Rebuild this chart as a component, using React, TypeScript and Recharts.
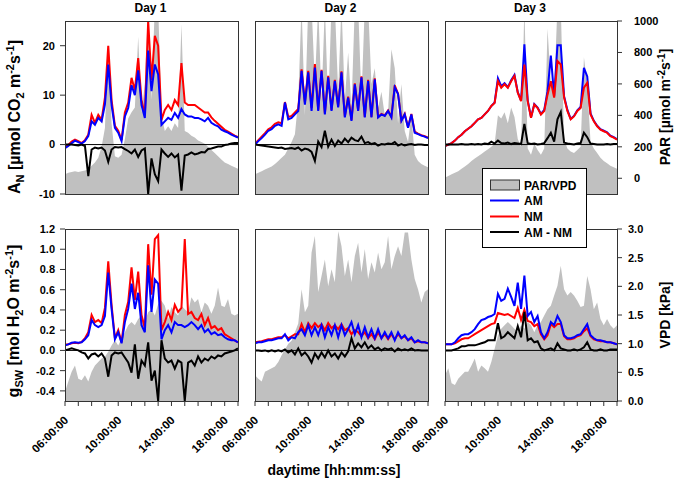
import { ComposedChart, Area, Line, XAxis, YAxis, ReferenceLine } from 'recharts';

const FONT = '"Liberation Sans", Arial, Helvetica, sans-serif';
const AXIS = '#333333';
const GREY = '#c0c0c0';
const PAD = 60;
const AXW = 30;

// time of day in hours, 15 min steps
const hours = [
  6, 6.25, 6.5, 6.75, 7, 7.25, 7.5, 7.75,
  8, 8.25, 8.5, 8.75, 9, 9.25, 9.5, 9.75,
  10, 10.25, 10.5, 10.75, 11, 11.25, 11.5, 11.75,
  12, 12.25, 12.5, 12.75, 13, 13.25, 13.5, 13.75,
  14, 14.25, 14.5, 14.75, 15, 15.25, 15.5, 15.75,
  16, 16.25, 16.5, 16.75, 17, 17.25, 17.5, 17.75,
  18, 18.25, 18.5, 18.75, 19,
];

const dayTitles = ['Day 1', 'Day 2', 'Day 3'];
const topTimeTicks = [7.13, 9.53, 11.94, 14.27, 16.67, 19];
const hourTicks = [6, 7, 8, 9, 10, 11, 12, 13, 14, 15, 16, 17, 18, 19];
const labelHours = [6, 10, 14, 18];
const timeLabels = ['06:00:00', '10:00:00', '14:00:00', '18:00:00'];
const anTicks = [-10, 0, 10, 20];
const parTicks = [0, 200, 400, 600, 800, 1000];
const gswTicks = [-0.4, -0.2, 0, 0.2, 0.4, 0.6, 0.8, 1.0, 1.2];
const vpdTicks = [0, 0.5, 1, 1.5, 2, 2.5, 3];

// ---- Day 1 ----
const par1 = [
  25, 35, 40, 45, 40, 45, 50, 55,
  80, 100, 130, 200, 320, 850, 350, 140,
  130, 150, 250, 380, 420, 450, 900, 420,
  600, 1100, 500, 1100, 1100, 400, 300, 330,
  300, 350, 320, 980, 300, 290, 270, 260,
  240, 230, 220, 200, 180, 160, 140, 120,
  100, 90, 80, 70, 60,
];
const anAM1 = [
  -0.7, -0.3, 0.3, 0.8, 0.5, 0.2, 0.7, 1.7,
  4.7, 4.0, 5.4, 4.7, 8.1, 16.2, 8.0, 3.4,
  2.4, 0.7, 5.7, 7.4, 12, 10, 15, 8,
  5.4, 19, 10.8, 16.2, 14.2, 4, 4.7, 5.4,
  5, 6.4, 5.4, 7.2, 6.1, 5.7, 5.7, 5.4,
  5.4, 5.1, 4.7, 5.4, 4.4, 4.0, 3.7, 3.0,
  2.7, 2.4, 2.0, 1.7, 1.4,
];
const anNM1 = [
  -0.5, -0.1, 0.6, 1.0, 0.7, 0.3, 0.9, 2.0,
  6.0, 4.4, 6.0, 5.0, 9.5, 20, 9, 3.8,
  2.8, 0.9, 6.5, 8.5, 13.5, 11, 17.5, 9,
  6, 25, 13, 22, 20, 5, 7, 8,
  7, 9, 8, 16.5, 8.5, 8, 8, 8,
  7.5, 7, 6.5, 6.5, 5.5, 4.8, 4.2, 3.6,
  3, 2.6, 2.2, 1.8, 1.5,
];
const anDiff1 = [
  0, 0, 0, -0.1, -0.2, 0, -0.3, -6.4,
  -1.0, -0.6, -0.8, -0.6, -1.2, -3.5, -1.0, -0.5,
  -0.6, -0.5, -0.9, -1.3, -1.8, -1.0, -2.5, -1.2,
  -0.8, -10, -2.8, -6, -7.4, -1.0, -1.8, -2.5,
  -1.8, -2.6, -2.0, -9.3, -2.2, -2.0, -1.6, -2.0,
  -1.8, -1.5, -1.6, -0.9, -0.8, -0.6, -0.4, -0.4,
  -0.1, 0, 0.2, 0.3, 0.3,
];
const vpd1 = [
  0.16, 0.34, 0.51, 0.62, 0.39, 0.36, 0.45, 0.34,
  0.51, 0.62, 0.68, 0.74, 0.77, 0.86, 0.97, 1.06,
  0.97, 1.09, 1.2, 1.32, 1.38, 1.32, 1.43, 1.49,
  1.38, 1.55, 1.6, 1.49, 1.69, 1.75, 1.66, 1.43,
  1.64, 1.55, 1.49, 1.66, 1.6, 1.55, 1.81, 1.72,
  1.78, 1.55, 1.72, 1.66, 1.52, 1.66, 1.98, 1.66,
  1.64, 1.78, 1.52, 1.49, 1.52,
];
const gswAM1 = [
  0.05, 0.06, 0.075, 0.08, 0.075, 0.08, 0.11, 0.15,
  0.3, 0.25, 0.23, 0.25, 0.34, 0.77, 0.41, 0.11,
  0.18, 0.07, 0.28, 0.41, 0.66, 0.41, 0.57, 0.25,
  0.18, 0.84, 0.38, 0.7, 0.66, 0.11, 0.2, 0.25,
  0.18, 0.28, 0.25, 0.25, 0.23, 0.25, 0.28, 0.25,
  0.21, 0.25, 0.18, 0.21, 0.16, 0.18, 0.15, 0.16,
  0.13, 0.11, 0.1, 0.1, 0.08,
];
const gswNM1 = [
  0.055, 0.06, 0.07, 0.075, 0.07, 0.085, 0.12, 0.18,
  0.35, 0.28, 0.3, 0.27, 0.42, 0.88, 0.45, 0.12,
  0.2, 0.08, 0.35, 0.48, 0.82, 0.5, 0.78, 0.35,
  0.22, 1.05, 0.55, 1.1, 1.14, 0.2, 0.28, 0.38,
  0.3, 0.45, 0.38, 0.42, 1.1, 0.36, 0.38, 0.32,
  0.3, 0.36, 0.25, 0.32, 0.22, 0.24, 0.2, 0.22,
  0.16, 0.14, 0.12, 0.1, 0.08,
];
const gswDiff1 = [
  0, 0.01, 0.02, 0.01, 0, -0.02, -0.03, -0.08,
  -0.04, -0.03, -0.06, -0.03, -0.08, -0.26, -0.05, -0.02,
  -0.03, -0.02, -0.07, -0.12, -0.22, 0.06, -0.28, -0.1,
  -0.15, 0.08, -0.3, -0.2, -0.5, 0.1, -0.08, -0.12,
  -0.1, -0.18, -0.1, -0.12, -0.5, -0.12, -0.1, -0.15,
  -0.06, -0.12, -0.08, -0.1, -0.06, -0.08, -0.05, -0.06,
  -0.03, -0.02, -0.01, 0, 0.02,
];

// ---- Day 2 ----
const par2 = [
  25, 35, 45, 55, 65, 75, 90, 110,
  130, 150, 190, 230, 280, 500, 1100, 400,
  1100, 1100, 600, 1100, 500, 1100, 450, 1100,
  1100, 550, 1100, 500, 800, 450, 1100, 1100,
  500, 1100, 1100, 600, 700, 450, 550, 400,
  420, 820, 700, 350, 600, 300, 230, 400,
  150, 110, 90, 80, 70,
];
const anAM2 = [
  0, 0.7, 1.3, 2.0, 2.8, 3.1, 3.8, 4.1,
  3.8, 8.5, 5.1, 5.4, 6.1, 6.8, 14.9, 8.1,
  14.6, 6.8, 15.6, 6.8, 14.9, 6.1, 13.6, 6.8,
  12.9, 7.5, 14.6, 5.5, 9.5, 4.8, 12.2, 6.8,
  13.6, 5.5, 12.9, 5.5, 13.2, 5.5, 6.1, 5.8,
  6.8, 5.5, 11.6, 10.2, 4.8, 6.1, 3.4, 6.1,
  2.4, 2.1, 1.8, 1.6, 1.3,
];
const anNM2 = [
  0.2, 0.9, 1.6, 2.3, 3.1, 3.5, 4.2, 4.5,
  4.3, 8.6, 5.6, 5.8, 6.5, 7.2, 15.2, 8.5,
  14.9, 7.4, 16.3, 7.0, 15.1, 6.3, 13.9, 7.0,
  13.1, 7.7, 14.8, 5.7, 9.7, 5.0, 12.4, 6.9,
  13.8, 5.6, 13.1, 5.6, 13.4, 5.6, 6.2, 5.9,
  6.9, 5.6, 12.0, 10.3, 4.9, 6.2, 3.5, 6.2,
  2.6, 2.2, 1.9, 1.7, 1.4,
];
const anDiff2 = [
  0, -0.1, -0.2, -0.3, -0.4, -0.5, -0.6, -0.7,
  -0.6, -0.9, -0.8, -0.7, -0.9, -0.6, -1.2, -0.8,
  -1.0, -1.5, -3.3, 0.6, -0.5, 2.8, -0.4, 1.0,
  -0.3, 0.8, 0.2, 1.2, 0.5, 1.4, 0.9, 0.7,
  1.6, 0.3, 0.5, 0.1, 0.3, -0.2, 0.1, 0,
  0.2, 0.1, 0.5, -0.2, 0.1, -0.2, 0, 0.1,
  -0.1, 0, 0, -0.1, -0.1,
];
const vpd2 = [
  0.45, 0.39, 0.34, 0.51, 0.54, 0.57, 0.6, 0.68,
  0.8, 0.9, 1.0, 1.05, 1.2, 1.35, 1.95, 1.55,
  1.66, 2.59, 2.88, 1.9, 2.18, 2.47, 2.0, 2.3,
  2.07, 2.96, 2.7, 2.18, 2.47, 2.07, 2.53, 2.76,
  2.24, 2.65, 2.13, 2.42, 2.24, 2.59, 2.3, 2.42,
  2.88, 2.3, 2.53, 2.7, 2.53, 2.94, 2.94, 2.47,
  2.13, 1.95, 1.72, 1.9, 1.95,
];
const gswAM2 = [
  0.07, 0.08, 0.08, 0.09, 0.1, 0.1, 0.11, 0.12,
  0.12, 0.16, 0.1, 0.13, 0.12, 0.18, 0.21, 0.15,
  0.25, 0.15, 0.23, 0.15, 0.25, 0.13, 0.23, 0.15,
  0.25, 0.13, 0.25, 0.15, 0.21, 0.28, 0.16, 0.25,
  0.13, 0.23, 0.13, 0.21, 0.12, 0.21, 0.12, 0.18,
  0.12, 0.18, 0.1, 0.18, 0.12, 0.15, 0.1, 0.13,
  0.08, 0.1, 0.08, 0.08, 0.07,
];
const gswNM2 = [
  0.08, 0.085, 0.09, 0.1, 0.11, 0.11, 0.12, 0.13,
  0.13, 0.15, 0.12, 0.14, 0.16, 0.16, 0.26, 0.18,
  0.27, 0.22, 0.27, 0.23, 0.26, 0.2, 0.27, 0.22,
  0.25, 0.21, 0.26, 0.2, 0.22, 0.16, 0.2, 0.18,
  0.14, 0.18, 0.12, 0.16, 0.11, 0.18, 0.12, 0.16,
  0.11, 0.16, 0.11, 0.16, 0.12, 0.14, 0.1, 0.12,
  0.08, 0.09, 0.08, 0.08, 0.07,
];
const gswDiff2 = [
  0, 0, -0.005, 0, -0.01, 0, -0.01, 0,
  -0.01, 0.01, -0.02, 0, -0.04, 0.02, -0.05, -0.02,
  -0.06, -0.12, -0.03, -0.08, -0.02, -0.07, 0, -0.06,
  -0.03, -0.08, -0.02, -0.06, -0.01, 0.12, 0.02, 0.07,
  0.03, 0.08, 0.02, 0.05, 0.01, 0.03, 0, 0.02,
  0.01, 0.02, -0.01, 0.02, 0, 0.01, 0, 0.02,
  0, 0.005, 0, 0, 0,
];

// ---- Day 3 ----
const par3 = [
  5, 15, 25, 35, 45, 60, 75, 90,
  110, 125, 140, 155, 170, 185, 200, 220,
  400, 380, 420, 350, 450, 390, 250, 200,
  1100, 190, 150, 220, 180, 150, 190, 950,
  600, 550, 1100, 1100, 250, 190, 170, 160,
  180, 200, 770, 600, 230, 190, 160, 130,
  110, 95, 80, 70, 60,
];
const anAM3 = [
  -0.3, 0, 0.3, 0.8, 1.5, 2.0, 2.7, 3.2,
  3.7, 4.4, 5.1, 5.4, 6.1, 6.8, 7.8, 8.5,
  13.4, 11.8, 12.4, 11.6, 13.0, 14.1, 10.6, 8.9,
  20.3, 9.0, 5.5, 8.2, 7.5, 6.2, 7.0, 10.8,
  18.0, 9.8, 20.1, 20.1, 9.8, 7.0, 5.2, 5.8,
  6.9, 7.6, 15.5, 13.8, 6.3, 4.8, 3.8, 3.1,
  2.8, 2.5, 1.8, 1.5, 1.1,
];
const anNM3 = [
  -0.3, 0, 0.3, 0.8, 1.5, 2.0, 2.7, 3.2,
  3.7, 4.4, 5.1, 5.4, 6.1, 6.8, 7.8, 8.4,
  12.8, 11.5, 12.2, 11.5, 12.8, 13.9, 10.5, 8.8,
  16.2, 8.8, 5.4, 8.1, 7.4, 6.1, 6.8, 10.1,
  12.8, 9.5, 16.9, 16.2, 9.5, 6.8, 5.1, 5.7,
  6.8, 7.4, 11.5, 12.5, 6.1, 4.7, 3.7, 3.0,
  2.7, 2.4, 1.7, 1.4, 1.0,
];
const anDiff3 = [
  0, 0, 0, 0, 0, 0.1, 0, 0,
  0.1, 0, 0.1, 0, 0.2, 0.1, 0.6, 0.2,
  0.8, 0.3, 0.2, 0.4, 0.1, 0.3, 0.2, 0.1,
  4.2, 0.3, 0.1, 0.2, 0, 0.1, 0.3, 1.3,
  2.4, 0.6, 5.1, 6.6, 0.4, 0.2, 0.1, 0,
  0.2, 0.3, 2.4, 1.5, 0.2, 0.1, 0, 0,
  0, 0.1, 0, 0.1, 0.1,
];
const vpd3 = [
  0.45, 0.57, 0.31, 0.28, 0.39, 0.45, 0.51, 0.51,
  0.62, 0.74, 0.51, 0.62, 0.57, 0.51, 0.68, 0.91,
  1.14, 1.26, 1.32, 1.38, 1.32, 1.26, 1.2, 1.32,
  1.26, 1.38, 1.32, 1.2, 1.32, 1.38, 1.49, 1.6,
  1.66, 1.84, 2.01, 2.36, 1.95, 1.84, 1.9, 1.84,
  1.75, 1.64, 1.66, 2.18, 1.95, 1.6, 1.72, 1.43,
  1.32, 1.43, 1.32, 1.26, 1.32,
];
const gswAM3 = [
  0.06, 0.06, 0.06, 0.08, 0.12, 0.15, 0.16, 0.16,
  0.18, 0.21, 0.26, 0.3, 0.31, 0.33, 0.34, 0.36,
  0.56, 0.49, 0.51, 0.61, 0.53, 0.44, 0.67, 0.41,
  0.74, 0.34, 0.38, 0.28, 0.34, 0.18, 0.12, 0.18,
  0.28, 0.25, 0.34, 0.28, 0.15, 0.12, 0.12, 0.13,
  0.15, 0.16, 0.21, 0.26, 0.15, 0.12, 0.1, 0.1,
  0.09, 0.08, 0.08, 0.07, 0.06,
];
const gswNM3 = [
  0.06, 0.06, 0.06, 0.07, 0.09, 0.11, 0.12, 0.12,
  0.14, 0.16, 0.18, 0.2, 0.22, 0.24, 0.26, 0.27,
  0.37, 0.36, 0.35, 0.36, 0.34, 0.32, 0.42, 0.3,
  0.4, 0.29, 0.28, 0.24, 0.26, 0.16, 0.11, 0.15,
  0.26, 0.23, 0.26, 0.26, 0.14, 0.11, 0.11, 0.12,
  0.14, 0.15, 0.19, 0.22, 0.14, 0.11, 0.1, 0.09,
  0.09, 0.08, 0.08, 0.07, 0.06,
];
const gswDiff3 = [
  0, 0, 0, 0.01, 0.02, 0.04, 0.04, 0.05,
  0.05, 0.05, 0.06, 0.07, 0.08, 0.1, 0.1, 0.1,
  0.27, 0.12, 0.14, 0.18, 0.15, 0.12, 0.24, 0.13,
  0.38, 0.1, 0.12, 0.08, 0.09, 0.02, 0, 0.01,
  0.02, 0, 0.07, 0.02, 0.01, 0, 0, 0.01,
  0, 0.01, 0.03, 0.08, 0.01, 0, 0, 0.01,
  0, 0, 0.01, 0.01, 0.01,
];

const colX = [65, 255, 445];
const colW = [173, 173, 172];
const rowY = [21, 229];
const rowH = [173, 172];

const anScale = { domain: [-10, 25], ticks: anTicks, fmt: (v: number) => String(v), margin: 5 };
const parScale = { domain: [-100, 1000], ticks: parTicks, fmt: (v: number) => String(v), margin: 12 };
const gswScale = { domain: [-0.5, 1.2], ticks: gswTicks, fmt: (v: number) => v.toFixed(1), margin: 5 };
const vpdScale = { domain: [0, 3], ticks: vpdTicks, fmt: (v: number) => v.toFixed(1), margin: 6 };

const tickText = { fill: '#000', fontSize: 11, fontWeight: 'bold', fontFamily: FONT };

const panels = [
  { row: 0, col: 0, am: anAM1, nm: anNM1, diff: anDiff1, env: par1, redTop: false },
  { row: 0, col: 1, am: anAM2, nm: anNM2, diff: anDiff2, env: par2, redTop: false },
  { row: 0, col: 2, am: anAM3, nm: anNM3, diff: anDiff3, env: par3, redTop: true },
  { row: 1, col: 0, am: gswAM1, nm: gswNM1, diff: gswDiff1, env: vpd1, redTop: false },
  { row: 1, col: 1, am: gswAM2, nm: gswNM2, diff: gswDiff2, env: vpd2, redTop: false },
  { row: 1, col: 2, am: gswAM3, nm: gswNM3, diff: gswDiff3, env: vpd3, redTop: false },
];

function TimeTick(props: any) {
  const { x, y, payload } = props;
  const i = labelHours.indexOf(payload.value);
  if (i < 0) return <g />;
  const ax = x + 4;
  const ay = y + 13;
  return (
    <text x={ax} y={ay} transform={`rotate(-45 ${ax} ${ay})`} textAnchor="end" {...tickText} fontSize={11.5}>
      {timeLabels[i]}
    </text>
  );
}

function Panel({ row, col, am, nm, diff, env, redTop }: any) {
  const x = colX[col];
  const y = rowY[row];
  const w = colW[col];
  const h = rowH[row];
  const ls = row === 0 ? anScale : gswScale;
  const rs = row === 0 ? parScale : vpdScale;
  const outerLeft = col === 0;
  const outerRight = col === 2;
  const data = hours.map((t, i) => ({ t, am: am[i], nm: nm[i], diff: diff[i], env: env[i] }));

  // mirrored axes take no room, outer ones take AXW
  const mLeft = outerLeft ? PAD - AXW : PAD;
  const mRight = outerRight ? PAD - AXW : PAD;

  const amLine = (
    <Line key="am" yAxisId="l" dataKey="am" type="linear" stroke="#0000ff" strokeWidth={2} dot={false} isAnimationActive={false} />
  );
  const nmLine = (
    <Line key="nm" yAxisId="l" dataKey="nm" type="linear" stroke="#ff0000" strokeWidth={2} dot={false} isAnimationActive={false} />
  );

  return (
    <div style={{ position: 'absolute', left: x - PAD, top: y - PAD }}>
      <ComposedChart
        width={w + 2 * PAD}
        height={h + 2 * PAD}
        data={data}
        margin={{ top: PAD, right: mRight, bottom: PAD - AXW, left: mLeft }}
      >
        <XAxis
          dataKey="t"
          type="number"
          domain={[6, 19]}
          allowDataOverflow
          ticks={row === 1 ? hourTicks : topTimeTicks}
          interval={0}
          height={AXW}
          axisLine={false}
          stroke={AXIS}
          tickSize={5}
          tick={row === 1 ? (p: any) => <TimeTick {...p} /> : false}
        />
        <YAxis
          yAxisId="l"
          domain={ls.domain}
          ticks={ls.ticks}
          allowDataOverflow
          interval={0}
          width={AXW}
          axisLine={false}
          stroke={AXIS}
          tickSize={5}
          mirror={!outerLeft}
          tick={outerLeft ? tickText : false}
          tickFormatter={ls.fmt}
          tickMargin={ls.margin}
        />
        <YAxis
          yAxisId="r"
          orientation="right"
          domain={rs.domain}
          ticks={rs.ticks}
          allowDataOverflow
          interval={0}
          width={AXW}
          axisLine={false}
          stroke={AXIS}
          tickSize={5}
          mirror={!outerRight}
          tick={outerRight ? tickText : false}
          tickFormatter={rs.fmt}
          tickMargin={rs.margin}
        />
        <Area
          yAxisId="r"
          dataKey="env"
          type="linear"
          stroke="none"
          fill={GREY}
          fillOpacity={1}
          baseValue={rs.domain[0]}
          isAnimationActive={false}
        />
        <ReferenceLine yAxisId="l" y={0} stroke="#000" strokeWidth={1} />
        {redTop ? amLine : nmLine}
        {redTop ? nmLine : amLine}
        <Line yAxisId="l" dataKey="diff" type="linear" stroke="#000000" strokeWidth={2} dot={false} isAnimationActive={false} />
      </ComposedChart>
      <div
        style={{
          position: 'absolute',
          left: PAD,
          top: PAD,
          width: w + 1,
          height: h + 1,
          border: `1px solid ${AXIS}`,
          boxSizing: 'border-box',
          pointerEvents: 'none',
        }}
      />
    </div>
  );
}

function Titles() {
  const big = { fontSize: 16, fontWeight: 'bold', fontFamily: FONT, fill: '#000' } as const;
  const mid = { fontSize: 14, fontWeight: 'bold', fontFamily: FONT, fill: '#000' } as const;
  return (
    <svg width={685} height={480} style={{ position: 'absolute', left: 0, top: 0, pointerEvents: 'none' }}>
      {dayTitles.map((d, i) => (
        <text key={d} x={colX[i] + colW[i] / 2 - 1} y={12} textAnchor="middle" fontSize={12} fontWeight="bold" fontFamily={FONT}>
          {d}
        </text>
      ))}
      <text transform="rotate(-90)" x={-117} y={20} textAnchor="middle" {...big}>
        A<tspan dy={4} fontSize={11}>N</tspan>
        <tspan dy={-4}> [µmol CO</tspan>
        <tspan dy={4} fontSize={11}>2</tspan>
        <tspan dy={-4}> m</tspan>
        <tspan dy={-6} fontSize={11}>-2</tspan>
        <tspan dy={6}>s</tspan>
        <tspan dy={-6} fontSize={11}>-1</tspan>
        <tspan dy={6}>]</tspan>
      </text>
      <text transform="rotate(-90)" x={-321} y={19} textAnchor="middle" {...big}>
        g<tspan dy={4} fontSize={11}>SW</tspan>
        <tspan dy={-4}> [mol H</tspan>
        <tspan dy={4} fontSize={11}>2</tspan>
        <tspan dy={-4}>O m</tspan>
        <tspan dy={-6} fontSize={11}>-2</tspan>
        <tspan dy={6}>s</tspan>
        <tspan dy={-6} fontSize={11}>-1</tspan>
        <tspan dy={6}>]</tspan>
      </text>
      <text transform="rotate(-90)" x={-107} y={670} textAnchor="middle" {...mid}>
        PAR [µmol m<tspan dy={-5} fontSize={10}>-2</tspan>
        <tspan dy={5}>s</tspan>
        <tspan dy={-5} fontSize={10}>-1</tspan>
        <tspan dy={5}>]</tspan>
      </text>
      <text transform="rotate(-90)" x={-315} y={670} textAnchor="middle" {...mid}>
        VPD [kPa]
      </text>
      <text x={334} y={475} textAnchor="middle" {...mid}>
        daytime [hh:mm:ss]
      </text>
    </svg>
  );
}

const legendItems = ['PAR/VPD', 'AM', 'NM', 'AM - NM'];
const legendColors = [GREY, '#0000ff', '#ff0000', '#000000'];
const legendRows = [17, 32.5, 48.5, 64];

function LegendBox() {
  return (
    <svg width={106} height={81} style={{ position: 'absolute', left: 482, top: 168 }}>
      <rect x={0.5} y={0.5} width={104} height={79} fill="#fff" stroke="#000" strokeWidth={1} />
      {legendItems.map((name, i) => (
        <g key={name}>
          {i === 0 ? (
            <rect x={8.5} y={legendRows[i] - 5} width={29} height={10} fill={legendColors[i]} stroke="#333" strokeWidth={1} />
          ) : (
            <line x1={8} x2={37} y1={legendRows[i]} y2={legendRows[i]} stroke={legendColors[i]} strokeWidth={2} />
          )}
          <text x={42} y={legendRows[i] + 4.5} fontSize={12} fontWeight="bold" fontFamily={FONT}>
            {name}
          </text>
        </g>
      ))}
    </svg>
  );
}

export default function App() {
  return (
    <div style={{ position: 'absolute', left: 0, top: 0, width: 685, height: 480, background: '#fff', fontFamily: FONT }}>
      {panels.map((p) => (
        <Panel key={`${p.row}-${p.col}`} {...p} />
      ))}
      <Titles />
      <LegendBox />
    </div>
  );
}
